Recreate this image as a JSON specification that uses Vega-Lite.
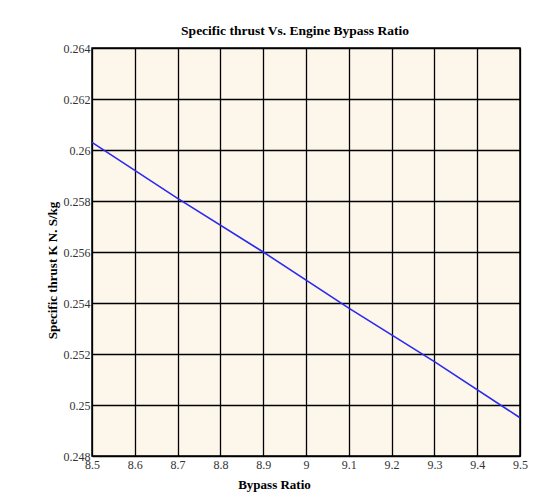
{
  "$schema": "https://vega.github.io/schema/vega-lite/v6.json",
  "width": 428,
  "height": 408,
  "autosize": "none",
  "padding": {"left": 92, "top": 48, "right": 29, "bottom": 43},
  "background": "white",
  "config": {
    "font": "Liberation Serif",
    "view": {"fill": "#fdf6ea", "stroke": "black", "strokeWidth": 1.5},
    "axis": {
      "grid": true,
      "gridColor": "black",
      "gridOpacity": 1,
      "gridWidth": 1.3,
      "domain": false,
      "ticks": false,
      "labelFont": "Liberation Serif",
      "labelFontSize": 12,
      "labelColor": "#333333",
      "titleFont": "Liberation Serif",
      "titleFontSize": 13,
      "titleFontWeight": "bold",
      "titleColor": "black"
    }
  },
  "title": {
    "text": "Specific thrust Vs. Engine Bypass Ratio",
    "font": "Liberation Serif",
    "fontSize": 13.5,
    "fontWeight": "bold",
    "color": "black",
    "anchor": "middle",
    "frame": "group",
    "baseline": "alphabetic",
    "dx": -11,
    "dy": 16,
    "offset": 10
  },
  "data": {
    "values": [
      {"bypass": 8.5, "thrust": 0.2603},
      {"bypass": 8.7, "thrust": 0.2581},
      {"bypass": 8.9, "thrust": 0.2560},
      {"bypass": 9.1, "thrust": 0.2538},
      {"bypass": 9.3, "thrust": 0.2517},
      {"bypass": 9.5, "thrust": 0.2495}
    ]
  },
  "mark": {"type": "line", "color": "#2a2af0", "strokeWidth": 1.6},
  "encoding": {
    "x": {
      "field": "bypass",
      "type": "quantitative",
      "scale": {"domain": [8.5, 9.5], "nice": false, "zero": false},
      "axis": {
        "title": "Bypass Ratio",
        "values": [8.5, 8.6, 8.7, 8.8, 8.9, 9, 9.1, 9.2, 9.3, 9.4, 9.5],
        "format": "~g",
        "labelPadding": 3,
        "labelFlush": false,
        "titleX": 182,
        "titleY": 32,
        "titleBaseline": "alphabetic",
        "titleAnchor": null
      }
    },
    "y": {
      "field": "thrust",
      "type": "quantitative",
      "scale": {"domain": [0.248, 0.264], "nice": false, "zero": false},
      "axis": {
        "title": "Specific thrust K N. S/kg",
        "values": [0.248, 0.25, 0.252, 0.254, 0.256, 0.258, 0.26, 0.262, 0.264],
        "format": "~g",
        "labelPadding": 2,
        "labelFlush": false,
        "titleX": -36,
        "titleY": 222,
        "titleBaseline": "alphabetic",
        "titleAlign": "center"
      }
    }
  }
}
